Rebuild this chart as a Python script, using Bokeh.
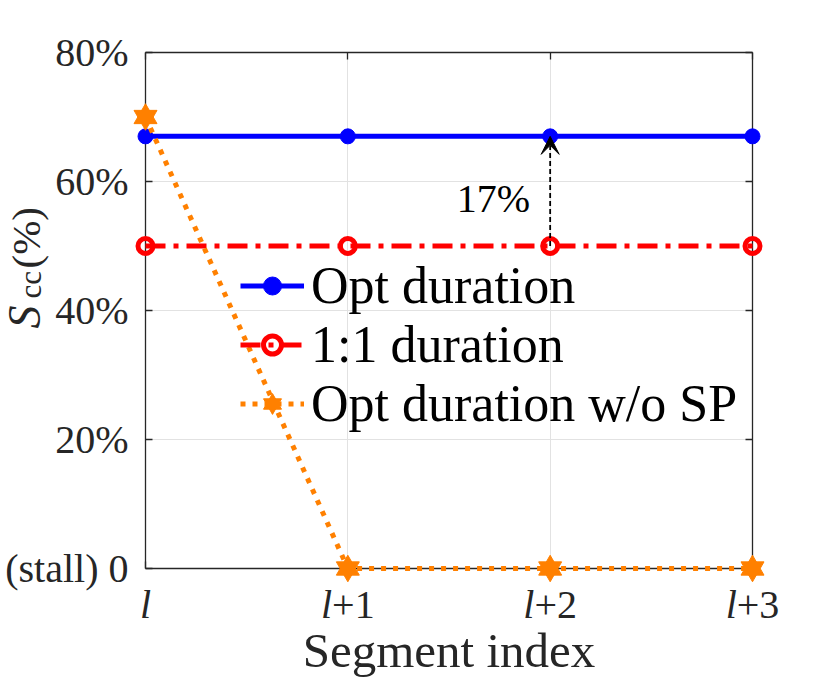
import math
from bokeh.plotting import figure
from bokeh.models import (Range1d, LinearAxis, Label, Legend, LegendItem, Arrow, VeeHead,
                          FixedTicker, CustomJSTickFormatter)
from bokeh.core.properties import value
from bokeh.embed import file_html
from bokeh.resources import INLINE

# ---------------- data ----------------
segments = [0, 1, 2, 3]
x_tick_base = "l"
x_tick_suffix = ["", "+1", "+2", "+3"]
opt_duration = [67, 67, 67, 67]
one_to_one = [50, 50, 50, 50]
opt_no_sp = [70, 0, 0, 0]
y_ticks = [0, 20, 40, 60, 80]
y_tick_labels = ["(stall) 0", "20%", "40%", "60%", "80%"]
series_names = ["Opt duration", "1:1 duration", "Opt duration w/o SP"]
gain_text = "17%"
x_title = "Segment index"
y_title_parts = ["S", "cc", "(%)"]

FONT = "Liberation Serif"
AX = "#262626"
BLUE = "#0000ff"
RED = "#ff0000"
ORANGE = "#ff8000"
TICK_FS = 40

p = figure(width=830, height=688, output_backend="svg", toolbar_location=None,
           x_range=Range1d(0, 3), y_range=Range1d(0, 80),
           min_border_left=145, min_border_right=78, min_border_top=52, min_border_bottom=120)
p.background_fill_color = "white"
p.border_fill_color = "white"
p.outline_line_color = None

xa = p.xaxis[0]
ya = p.yaxis[0]
for ax in (xa, ya):
    ax.axis_line_color = AX
    ax.axis_line_width = 1.3
    ax.major_tick_line_color = AX
    ax.major_tick_line_width = 1.3
    ax.major_tick_in = 7
    ax.major_tick_out = 0
    ax.minor_tick_line_color = None
xa.ticker = FixedTicker(ticks=segments)
xa.formatter = CustomJSTickFormatter(code="return ''")
ya.ticker = FixedTicker(ticks=y_ticks)
ya.major_label_overrides = {t: s for t, s in zip(y_ticks, y_tick_labels)}
ya.major_label_text_font = FONT
ya.major_label_text_font_size = f"{TICK_FS}px"
ya.major_label_text_color = AX
ya.major_label_standoff = 17

top = LinearAxis(ticker=FixedTicker(ticks=segments), formatter=CustomJSTickFormatter(code="return ''"),
                 axis_line_color=AX, axis_line_width=1.3, major_tick_line_color=AX,
                 major_tick_line_width=1.3, major_tick_in=7, major_tick_out=0,
                 minor_tick_line_color=None, major_label_standoff=0)
right = LinearAxis(ticker=FixedTicker(ticks=y_ticks), formatter=CustomJSTickFormatter(code="return ''"),
                   axis_line_color=AX, axis_line_width=1.3, major_tick_line_color=AX,
                   major_tick_line_width=1.3, major_tick_in=7, major_tick_out=0,
                   minor_tick_line_color=None, major_label_standoff=0)
p.add_layout(top, "above")
p.add_layout(right, "right")

p.xgrid[0].ticker = FixedTicker(ticks=segments)
p.ygrid[0].ticker = FixedTicker(ticks=y_ticks)
for g in (p.xgrid[0], p.ygrid[0]):
    g.grid_line_color = "#e2e2e2"
    g.grid_line_width = 1

# ---------------- series ----------------
blue_line = p.line(segments, opt_duration, line_color=BLUE, line_width=5)
blue_pts = p.scatter(segments, opt_duration, marker="circle", size=15,
                     fill_color=BLUE, line_color=BLUE, line_width=1)
red_line = p.line(segments, one_to_one, line_color=RED, line_width=5, line_dash="20 8 5 8")
red_pts = p.scatter(segments, one_to_one, marker="circle", size=15,
                    fill_color=None, line_color=RED, line_width=5)
or_line = p.line(segments, opt_no_sp, line_color=ORANGE, line_width=5, line_dash="5 7")
or_up = p.scatter(segments, opt_no_sp, marker="triangle", size=23,
                  fill_color=ORANGE, line_color=ORANGE, line_width=1)
or_dn = p.scatter(segments, opt_no_sp, marker="inverted_triangle", size=23,
                  fill_color=ORANGE, line_color=ORANGE, line_width=1)
for r in (blue_line, blue_pts, red_line, red_pts, or_line, or_up, or_dn):
    r.level = "annotation"   # let edge markers overhang the frame

# ---------------- annotation arrow ----------------
arrow = Arrow(end=VeeHead(size=18, fill_color="black", line_color="black", line_width=1),
              x_start=segments[2], y_start=one_to_one[2],
              x_end=segments[2], y_end=opt_duration[2],
              line_color="black", line_width=1.8, line_dash="5 3")
p.add_layout(arrow)
p.add_layout(Label(x=segments[2] - 0.28, y=(one_to_one[2] + opt_duration[2]) / 2, y_offset=-7,
                   text=gain_text, text_font=FONT, text_font_size=f"{TICK_FS}px",
                   text_color="black", text_align="center", text_baseline="middle"))

# ---------------- legend ----------------
legend = Legend(items=[
    LegendItem(label=series_names[0], renderers=[blue_line, blue_pts]),
    LegendItem(label=series_names[1], renderers=[red_line, red_pts]),
    LegendItem(label=series_names[2], renderers=[or_line, or_up, or_dn]),
], location=(95, 135), orientation="vertical", padding=0, margin=0, spacing=0,
    glyph_width=64, glyph_height=45, label_height=57, label_standoff=7,
    label_text_font=FONT, label_text_font_size="52px", label_text_color="black",
    background_fill_alpha=0, border_line_alpha=0)
p.add_layout(legend)

# ---------------- x tick labels (italic l + upright suffix), as unclipped text glyphs ----------------
lw = 0.278 * TICK_FS
l_x, l_off, s_x, s_txt, s_off = [], [], [], [], []
for xv, suf in zip(segments, x_tick_suffix):
    sw = (0.564 + 0.5) * TICK_FS if suf else 0
    start = -(lw + sw) / 2
    l_x.append(xv)
    l_off.append(start)
    if suf:
        s_x.append(xv)
        s_txt.append(suf)
        s_off.append(start + lw)
base_y = y_ticks[0]
t1 = p.text(x=l_x, y=[base_y] * len(l_x), text=[x_tick_base] * len(l_x), x_offset=l_off, y_offset=36,
            text_font=value(FONT), text_font_style=value("italic"), text_font_size=value(f"{TICK_FS}px"),
            text_color=AX, text_align="left", text_baseline="alphabetic")
t2 = p.text(x=s_x, y=[base_y] * len(s_x), text=s_txt, x_offset=s_off, y_offset=36,
            text_font=value(FONT), text_font_size=value(f"{TICK_FS}px"),
            text_color=AX, text_align="left", text_baseline="alphabetic")

# x title
t3 = p.text(x=[sum(segments) / len(segments)], y=[base_y], text=[x_title], y_offset=82,
            text_font=value(FONT), text_font_size=value("49px"),
            text_color=AX, text_align="center", text_baseline="alphabetic")

# y title: S_cc(%), rotated
ang = math.pi / 2
t4 = p.text(x=[segments[0]], y=[base_y], text=[y_title_parts[0]], x_offset=-121, y_offset=-240, angle=ang,
            text_font=value(FONT), text_font_style=value("italic"), text_font_size=value("46px"),
            text_color=AX, text_align="left", text_baseline="alphabetic")
t5 = p.text(x=[segments[0]], y=[base_y], text=[y_title_parts[1]], x_offset=-115, y_offset=-270, angle=ang,
            text_font=value(FONT), text_font_size=value("31px"),
            text_color=AX, text_align="left", text_baseline="alphabetic")
t6 = p.text(x=[segments[0]], y=[base_y], text=[y_title_parts[2]], x_offset=-120, y_offset=-300, angle=ang,
            text_font=value(FONT), text_font_size=value("41px"),
            text_color=AX, text_align="left", text_baseline="alphabetic")
for r in (t1, t2, t3, t4, t5, t6):
    r.level = "annotation"

open("out.html", "w").write(file_html(p, INLINE))
